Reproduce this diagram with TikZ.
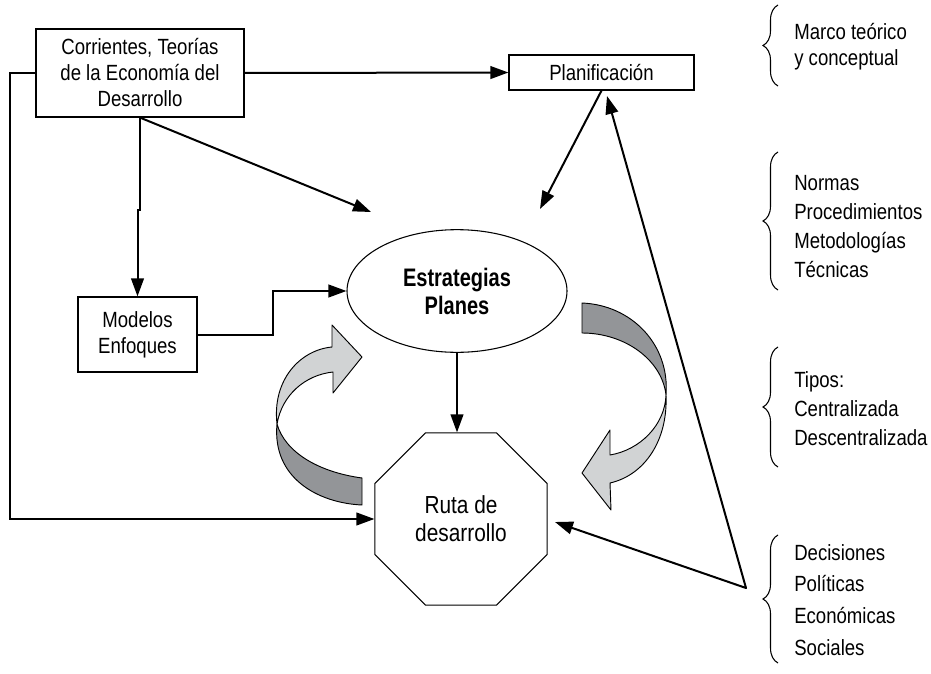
\documentclass[tikz,border=0pt]{standalone}
\usepackage{fontspec}
\setmainfont[FakeStretch=0.845]{Liberation Sans}
\newfontfamily\headfont[FakeStretch=0.79]{Liberation Sans}
\usetikzlibrary{arrows.meta,shapes.geometric,decorations.pathreplacing}
\definecolor{ribbonlight}{HTML}{D1D3D4}
\definecolor{ribbondark}{HTML}{939598}
\begin{document}
\begin{tikzpicture}[x=0.75pt,y=-0.75pt,
  txt/.style={font=\fontsize{16.5pt}{19.5pt}\selectfont},
  box/.style={draw, line width=0.9pt, rectangle, inner sep=0pt, align=center, txt},
  conn/.style={line width=1.5pt, -{Triangle[length=13.5pt,width=9.5pt]}},
  twoway/.style={line width=1.5pt, line join=round,
    {Triangle[length=13.5pt,width=9.5pt]}-{Triangle[length=13.5pt,width=9.5pt]}},
  ribbon/.style={draw, line width=0.7pt, line join=round},
  bracket/.style={decorate, decoration={brace, amplitude=11.25pt}, line width=0.8pt},
  side/.style={txt, anchor=base west, inner sep=0pt}]
\useasboundingbox (0,0) rectangle (931,674);

% main blocks
\node[box, minimum width=156pt, minimum height=66pt] (corr) at (140,73)
  {Corrientes, Teorías\\de la Economía del\\Desarrollo};
\node[box, minimum width=138.75pt, minimum height=26.25pt] (plan) at (601.5,72.5) {Planificación};
\node[box, minimum width=89.25pt, minimum height=56.25pt] (mod) at (137.5,334.5) {Modelos\\Enfoques};
\node[draw, ellipse, line width=0.8pt, minimum width=165pt, minimum height=92pt, inner sep=0pt,
  align=center, font=\headfont\bfseries\fontsize{19pt}{21pt}\selectfont] (est) at (457,291)
  {Estrategias\\Planes};
\node[draw, regular polygon, regular polygon sides=8, minimum size=139.7pt, inner sep=0pt,
  line width=0.8pt, align=center, font=\fontsize{18.5pt}{21pt}\selectfont] (oct) at (461,519)
  {Ruta de\\desarrollo};

% free ends of connectors
\coordinate (estNW) at (371,212);
\coordinate (estNE) at (540,209);
\coordinate (apex) at (746,588);
\coordinate (planIn) at (607,96);
\coordinate (octIn) at (555,522);

% connectors
\draw[conn] (corr.west) -- ++(-25,0) |- (oct.west);
\draw[conn] (corr.east) -- (plan.west);
\draw[conn] (corr.south) -- ++(0,92) -| (mod.north);
\draw[conn] (corr.south) -- (estNW);
\draw[conn] (mod.east) -- ++(75,0) |- (est.west);
\draw[conn] (plan.south) -- (estNE);
\draw[conn] (est.south) -- (est.south |- oct.north);
\draw[twoway] (planIn) -- (apex) -- (octIn);

% left twisted ribbon arrow
\filldraw[ribbon, fill=ribbondark] (277,424) .. controls (272,478) and (318,503) .. (362,505)
  -- (362,478) .. controls (318,472) and (285,452) .. (277,424) -- cycle;
\filldraw[ribbon, fill=ribbonlight] (277,424) .. controls (272,380) and (300,350) .. (332,347)
  -- (332,325) -- (362,357) -- (333,393) -- (333,372)
  .. controls (305,375) and (282,395) .. (277,424) -- cycle;

% right twisted ribbon arrow
\filldraw[ribbon, fill=ribbondark] (582,303) .. controls (632,305) and (670,345) .. (666,395)
  .. controls (662,360) and (625,333) .. (582,333) -- cycle;
\filldraw[ribbon, fill=ribbonlight] (666,395) .. controls (668,440) and (645,475) .. (610,483)
  -- (611,510) -- (582,473) -- (610,430) -- (610,455)
  .. controls (640,450) and (665,425) .. (666,395) -- cycle;

% side notes
\draw[bracket] (778,86) -- (778,5);
\draw[bracket] (778,290) -- (778,152);
\draw[bracket] (778,467) -- (778,347);
\draw[bracket] (778,663) -- (778,535);

\node[side] (n1) at (794,40) {Marco teórico};
\node[side] (n2) at (794,65) {y conceptual};
\node[side] (n3) at (794,190) {Normas};
\node[side] (n4) at (794,219) {Procedimientos};
\node[side] (n5) at (794,248) {Metodologías};
\node[side] (n6) at (794,277) {Técnicas};
\node[side] (n7) at (794,387) {Tipos:};
\node[side] (n8) at (794,416) {Centralizada};
\node[side] (n9) at (794,445) {Descentralizada};
\node[side] (n10) at (794,560) {Decisiones};
\node[side] (n11) at (794,591) {Políticas};
\node[side] (n12) at (794,623) {Económicas};
\node[side] (n13) at (794,655) {Sociales};
\end{tikzpicture}
\end{document}
